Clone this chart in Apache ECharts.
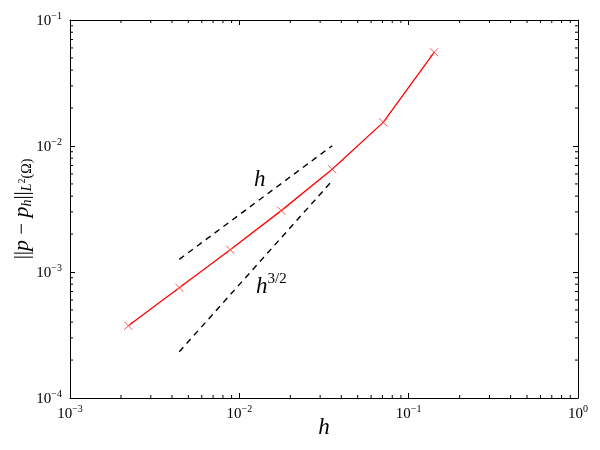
<!DOCTYPE html>
<html><head><meta charset="utf-8">
<script src="https://cdn.jsdelivr.net/npm/echarts@6/dist/echarts.min.js"></script>
<style>html,body{margin:0;padding:0;background:#fff;overflow:hidden}#c{width:600px;height:450px}</style>
</head><body><div id="c"></div>
<script>
// mesh size h and L2 error of the pressure
const hValues = [0.00221, 0.00442, 0.00884, 0.01768, 0.03536, 0.07071, 0.14142];
const errValues = [3.75e-4, 7.5e-4, 1.5e-3, 3.07e-3, 6.53e-3, 1.54e-2, 5.54e-2];
// reference slopes
const refX = [0.00442, 0.03536];
const refOrder1 = [1.26e-3, 1.005e-2];
const refOrder32 = [2.33e-4, 5.30e-3];
// axes
const xRange = [1e-3, 1];
const yRange = [1e-4, 1e-1];
const minorMantissas = [2, 3, 4, 5, 6, 7, 8, 9];
const xDecades = [1e-3, 1e-2, 1e-1];
const yDecades = [1e-4, 1e-3, 1e-2];

const FONT = 'Liberation Serif';
const xMinor = [];
xDecades.forEach(d => minorMantissas.forEach(m => xMinor.push([m * d, yRange[0]])));
const yMinor = [];
yDecades.forEach(d => minorMantissas.forEach(m => yMinor.push([xRange[0], m * d])));

function tickLabel(v) {
  const e = Math.round(Math.log10(v));
  return '{b|10}{e|' + (e < 0 ? '\u2212' + (-e) : e) + '}';
}
const labelRich = {
  b: {fontSize: 15, fontFamily: FONT, color: '#000', verticalAlign: 'bottom', lineHeight: 18},
  e: {fontSize: 10, fontFamily: FONT, color: '#000', verticalAlign: 'top', lineHeight: 10}
};

const chart = echarts.init(document.getElementById('c'), null, {renderer: 'canvas'});
const axisCommon = {
  type: 'log', logBase: 10,
  axisLine: {show: true, lineStyle: {color: '#000', width: 1}},
  axisTick: {show: true, inside: true, length: 5, lineStyle: {color: '#000'}},
  splitLine: {show: false}
};
function minorTickSeries(data, isX) {
  return {
    type: 'custom', data: data, silent: true, clip: false, z: 5,
    encode: {x: 0, y: 1},
    renderItem: function (params, api) {
      const L = 3;
      if (isX) {
        const b = api.coord([api.value(0), yRange[0]]);
        const t = api.coord([api.value(0), yRange[1]]);
        return {type: 'group', children: [
          {type: 'line', shape: {x1: b[0], y1: b[1], x2: b[0], y2: b[1] - L}, style: {stroke: '#000', lineWidth: 1}},
          {type: 'line', shape: {x1: t[0], y1: t[1], x2: t[0], y2: t[1] + L}, style: {stroke: '#000', lineWidth: 1}}
        ]};
      } else {
        const l = api.coord([xRange[0], api.value(1)]);
        const r = api.coord([xRange[1], api.value(1)]);
        return {type: 'group', children: [
          {type: 'line', shape: {x1: l[0], y1: l[1], x2: l[0] + L, y2: l[1]}, style: {stroke: '#000', lineWidth: 1}},
          {type: 'line', shape: {x1: r[0], y1: r[1], x2: r[0] - L, y2: r[1]}, style: {stroke: '#000', lineWidth: 1}}
        ]};
      }
    }
  };
}
const option = {
  animation: false,
  backgroundColor: '#fff',
  grid: {left: 70, right: 22, top: 20, bottom: 52, containLabel: false, outerBoundsMode: 'none'},
  xAxis: [
    Object.assign({}, axisCommon, {
      min: xRange[0], max: xRange[1], position: 'bottom',
      name: 'h', nameLocation: 'middle', nameGap: 18, nameMoveOverlap: false,
      nameTextStyle: {fontFamily: FONT, fontStyle: 'italic', fontSize: 23, color: '#000'},
      axisLabel: {show: true, margin: 6, formatter: tickLabel, rich: labelRich}
    }),
    Object.assign({}, axisCommon, {
      min: xRange[0], max: xRange[1], position: 'top', axisLabel: {show: false}
    })
  ],
  yAxis: [
    Object.assign({}, axisCommon, {
      min: yRange[0], max: yRange[1], position: 'left',
      name: '{r|||}{n|p}{r| \u2212 }{n|p}{s|h}{r|||}{s|L}{ss|2}{s2|(\u03A9)}',
      nameLocation: 'middle', nameGap: 36, nameRotate: 90, nameMoveOverlap: false,
      nameTextStyle: {
        rich: {
          r: {fontSize: 21, fontFamily: FONT, color: '#000', verticalAlign: 'middle', lineHeight: 24},
          n: {fontSize: 22, fontFamily: FONT, fontStyle: 'italic', color: '#000', verticalAlign: 'middle', lineHeight: 24},
          s: {fontSize: 14, fontFamily: FONT, fontStyle: 'italic', color: '#000', verticalAlign: 'bottom', lineHeight: 14},
          ss: {fontSize: 10, fontFamily: FONT, color: '#000', verticalAlign: 'middle', lineHeight: 10},
          s2: {fontSize: 14, fontFamily: FONT, color: '#000', verticalAlign: 'bottom', lineHeight: 14}
        }
      },
      axisLabel: {show: true, margin: 8, formatter: tickLabel, rich: labelRich}
    }),
    Object.assign({}, axisCommon, {
      min: yRange[0], max: yRange[1], position: 'right', axisLabel: {show: false}
    })
  ],
  graphic: [
    {type: 'text', left: 254, top: 168, style: {text: 'h', font: 'italic 23px "Liberation Serif"', fill: '#000'}},
    {type: 'text', left: 256, top: 272, style: {
      text: '{b|h}{e|3/2}',
      rich: {
        b: {font: 'italic 23px "Liberation Serif"', fill: '#000', verticalAlign: 'bottom', lineHeight: 26},
        e: {font: '15px "Liberation Serif"', fill: '#000', verticalAlign: 'top', lineHeight: 14}
      }
    }}
  ],
  series: [
    {
      type: 'line', data: hValues.map((h, i) => [h, errValues[i]]),
      lineStyle: {color: '#ff0000', width: 1.3},
      symbol: 'path://M0,0L10,10M10,0L0,10', symbolSize: 8, showAllSymbol: true,
      itemStyle: {color: 'rgba(0,0,0,0)', borderColor: '#ff5050', borderWidth: 1},
      z: 3
    },
    {
      type: 'line', data: refX.map((h, i) => [h, refOrder1[i]]), symbol: 'none',
      lineStyle: {color: '#000', width: 1.4, type: [6, 5]}
    },
    {
      type: 'line', data: refX.map((h, i) => [h, refOrder32[i]]), symbol: 'none',
      lineStyle: {color: '#000', width: 1.4, type: [6, 5]}
    },
    minorTickSeries(xMinor, true),
    minorTickSeries(yMinor, false)
  ]
};
chart.setOption(option);
</script>
</body></html>
